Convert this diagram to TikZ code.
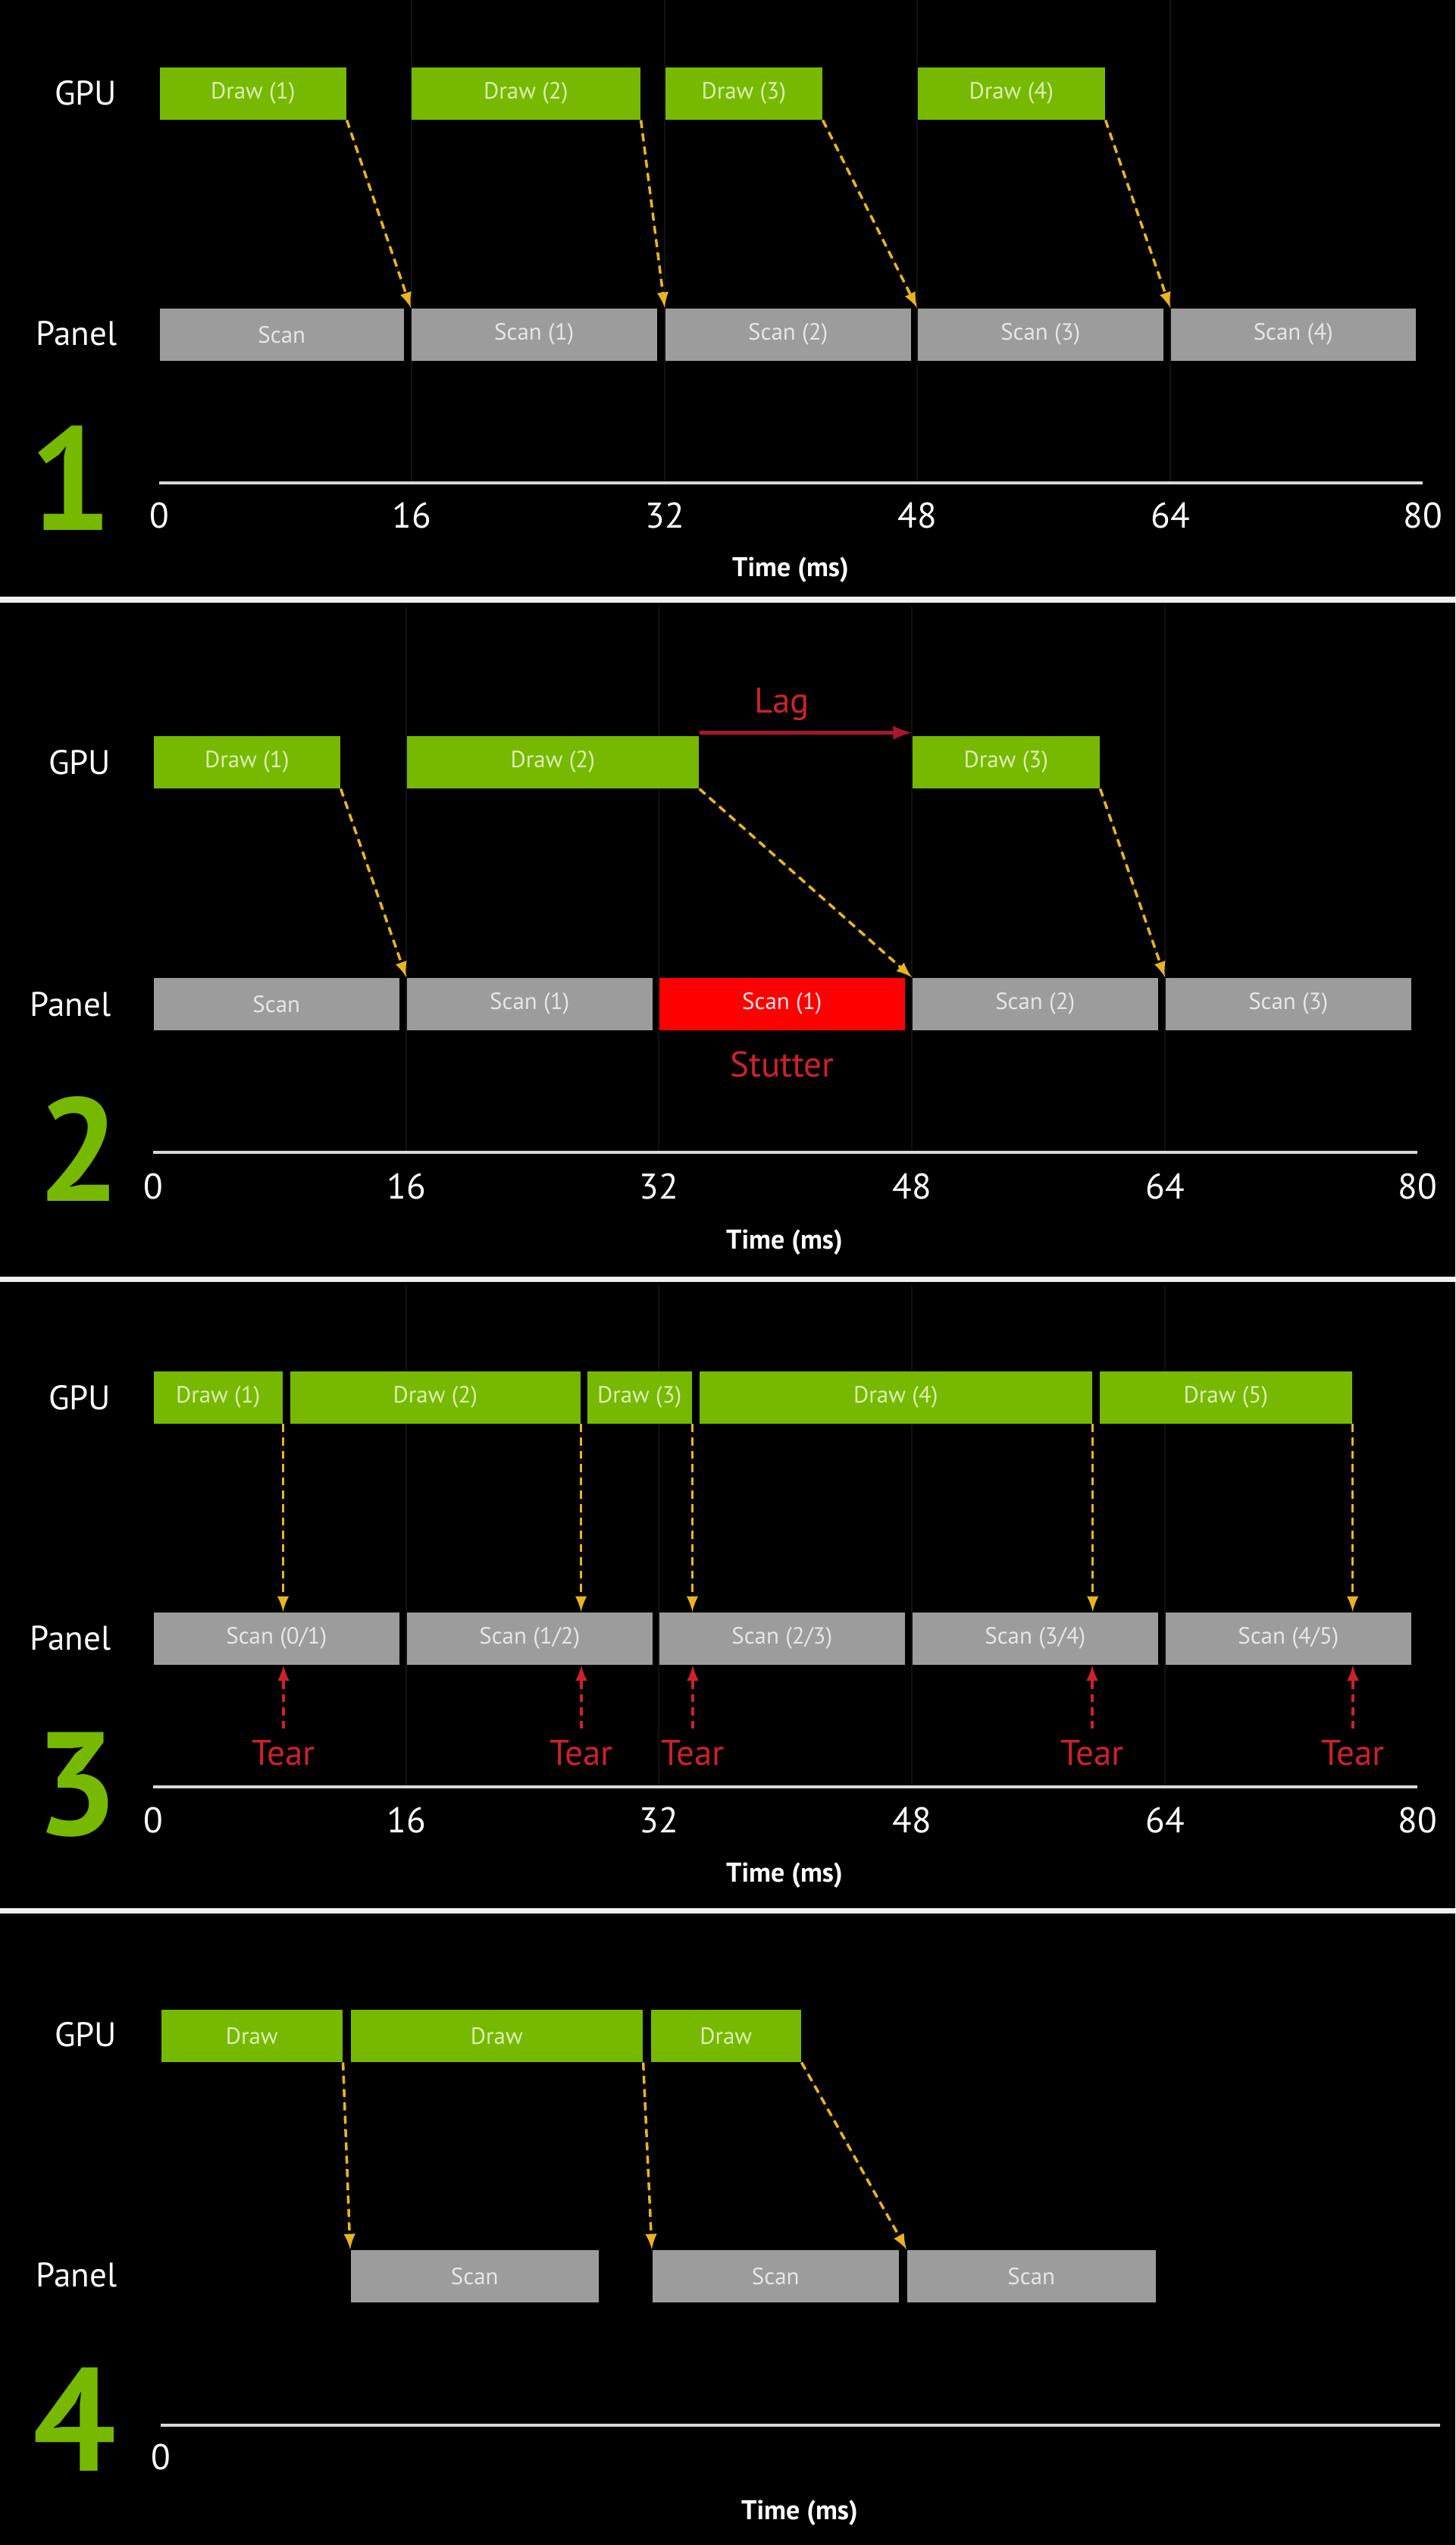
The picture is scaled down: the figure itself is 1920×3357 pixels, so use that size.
\documentclass[tikz,border=0pt]{standalone}
\usepackage{fontspec}
\setmainfont{PT Sans}
\usepackage{xcolor}
\usepackage{tikz}
\definecolor{nvgreen}{HTML}{76B900}
\definecolor{drawtext}{HTML}{DCEFB4}
\definecolor{scangray}{HTML}{9C9C9C}
\definecolor{scantext}{HTML}{E6E6E6}
\definecolor{stutterred}{HTML}{FF0000}
\definecolor{warnred}{HTML}{CC2229}
\definecolor{lagred}{HTML}{A8182A}
\definecolor{arrowyellow}{HTML}{E8B422}
\definecolor{axisgray}{HTML}{D9D9D9}
\definecolor{faintgray}{HTML}{121212}

\begin{document}
\begin{tikzpicture}[x=0.01cm,y=-0.01cm,>=latex,
        drawbox/.style={fill=nvgreen,text=drawtext,inner sep=0pt,anchor=north west,minimum height=0.69cm,font=\fontsize{8.8}{10}\selectfont},
        scanbox/.style={fill=scangray,text=scantext,inner sep=0pt,anchor=north west,minimum width=3.24cm,minimum height=0.69cm,font=\fontsize{8.8}{10}\selectfont},
        rowlbl/.style={text=white,anchor=base east,inner sep=0pt,font=\fontsize{12.8}{14}\selectfont},
        ticklbl/.style={text=white,anchor=base,inner sep=0pt,font=\fontsize{13.4}{15}\selectfont},
        timelbl/.style={text=white,anchor=base,inner sep=0pt,font=\bfseries\fontsize{10.2}{12}\selectfont},
        bignum/.style={text=nvgreen,anchor=base,inner sep=0pt,font=\bfseries\fontsize{55}{60}\selectfont},
        redlbl/.style={text=warnred,anchor=base,inner sep=0pt,font=\fontsize{13.4}{15}\selectfont},
        frame/.style={->,line width=1pt,draw=arrowyellow,fill=arrowyellow,dash pattern=on 3pt off 2pt},
        teararrow/.style={->,line width=1pt,draw=warnred,fill=warnred,dash pattern=on 3pt off 2pt},
        axisline/.style={line width=1.3pt,draw=axisgray},
        sepline/.style={line width=2pt,draw=white!94!black},
        vline/.style={line width=0.5pt,draw=faintgray}]
        \useasboundingbox (0,0) rectangle (1920,3357);
        \fill[black] (0,0) rectangle (1920,3357);

        % 1: scans in step
        \draw[vline] (543,0) -- (543,637) ;
        \draw[vline] (877,0) -- (877,637) ;
        \draw[vline] (1210,0) -- (1210,637) ;
        \draw[vline] (1544,0) -- (1544,637) ;
        \node at (155,138) [rowlbl] (gpu1) {GPU};
        \node at (155,455) [rowlbl] (pan1) {Panel};
        \node at (210,88) [drawbox,minimum width=2.46cm] (d11) {Draw (1)};
        \node at (542,88) [drawbox,minimum width=3.02cm] (d12) {Draw (2)};
        \node at (877,88) [drawbox,minimum width=2.07cm] (d13) {Draw (3)};
        \node at (1210,88) [drawbox,minimum width=2.47cm] (d14) {Draw (4)};
        \node at (210,406) [scanbox,minimum width=3.22cm] (s10) {Scan};
        \node at (542,406) [scanbox] (s11) {Scan (1)};
        \node at (877,406) [scanbox] (s12) {Scan (2)};
        \node at (1210,406) [scanbox] (s13) {Scan (3)};
        \node at (1544,406) [scanbox,minimum width=3.23cm] (s14) {Scan (4)};
        \draw[frame] (d11.south east) -- (s11.north west) ;
        \draw[frame] (d12.south east) -- (s12.north west) ;
        \draw[frame] (d13.south east) -- (s13.north west) ;
        \draw[frame] (d14.south east) -- (s14.north west) ;
        \draw[axisline] (210,637) -- (1877,637) ;
        \node at (210,696) [ticklbl] {0};
        \node at (543,696) [ticklbl] {16};
        \node at (877,696) [ticklbl] {32};
        \node at (1210,696) [ticklbl] {48};
        \node at (1544,696) [ticklbl] {64};
        \node at (1877,696) [ticklbl] {80};
        \node at (1043,760) [timelbl] (time1) {Time (ms)};
        \node at (93,699) [bignum] (num1) {1};
        \draw[sepline] (0,791) -- (1920,791) ;

        % 2: late frame, lag and stutter
        \draw[vline] (536,800) -- (536,1520) ;
        \draw[vline] (869,800) -- (869,1520) ;
        \draw[vline] (1203,800) -- (1203,1520) ;
        \draw[vline] (1537,800) -- (1537,1520) ;
        \node at (147,1021) [rowlbl] (gpu2) {GPU};
        \node at (147,1340) [rowlbl] (pan2) {Panel};
        \node at (202,970) [drawbox,minimum width=2.46cm] (d21) {Draw (1)};
        \node at (536,970) [drawbox,minimum width=3.85cm] (d22) {Draw (2)};
        \node at (1203,970) [drawbox,minimum width=2.47cm] (d23) {Draw (3)};
        \node at (202,1289) [scanbox] (s20) {Scan};
        \node at (536,1289) [scanbox] (s21) {Scan (1)};
        \node at (869,1289) [scanbox,fill=stutterred] (s22) {Scan (1)};
        \node at (1203,1289) [scanbox] (s23) {Scan (2)};
        \node at (1537,1289) [scanbox] (s24) {Scan (3)};
        \draw[frame] (d21.south east) -- (s21.north west) ;
        \draw[frame] (d22.south east) -- (s23.north west) ;
        \draw[frame] (d23.south east) -- (s24.north west) ;
        \draw[->,line width=1.4pt,draw=lagred,fill=lagred] ([yshift=1pt]d22.north east) -- ([yshift=1pt]d23.north west) ;
        \node at (1032,940) [redlbl] (lag) {Lag};
        \node at (1032,1420) [redlbl] (stutter) {Stutter};
        \draw[axisline] (202,1520) -- (1870,1520) ;
        \node at (202,1581) [ticklbl] {0};
        \node at (536,1581) [ticklbl] {16};
        \node at (869,1581) [ticklbl] {32};
        \node at (1203,1581) [ticklbl] {48};
        \node at (1537,1581) [ticklbl] {64};
        \node at (1870,1581) [ticklbl] {80};
        \node at (1035,1647) [timelbl] (time2) {Time (ms)};
        \node at (104,1584) [bignum] (num2) {2};
        \draw[sepline] (0,1687) -- (1920,1687) ;

        % 3: no sync, tearing
        \draw[vline] (536,1695) -- (536,2357) ;
        \draw[vline] (869,1695) -- (869,2357) ;
        \draw[vline] (1203,1695) -- (1203,2357) ;
        \draw[vline] (1537,1695) -- (1537,2357) ;
        \node at (147,1859) [rowlbl] (gpu3) {GPU};
        \node at (147,2176) [rowlbl] (pan3) {Panel};
        \node at (202,1808) [drawbox,minimum width=1.70cm] (d31) {Draw (1)};
        \node at (382,1808) [drawbox,minimum width=3.83cm] (d32) {Draw (2)};
        \node at (774,1808) [drawbox,minimum width=1.38cm] (d33) {Draw (3)};
        \node at (922,1808) [drawbox,minimum width=5.18cm] (d34) {Draw (4)};
        \node at (1450,1808) [drawbox,minimum width=3.33cm] (d35) {Draw (5)};
        \node at (202,2126) [scanbox] (s31) {Scan (0/1)};
        \node at (536,2126) [scanbox] (s32) {Scan (1/2)};
        \node at (869,2126) [scanbox] (s33) {Scan (2/3)};
        \node at (1203,2126) [scanbox] (s34) {Scan (3/4)};
        \node at (1537,2126) [scanbox] (s35) {Scan (4/5)};
        \draw[frame] (d31.south east) -- (d31.south east |- s31.north) ;
        \draw[frame] (d32.south east) -- (d32.south east |- s32.north) ;
        \draw[frame] (d33.south east) -- (d33.south east |- s33.north) ;
        \draw[frame] (d34.south east) -- (d34.south east |- s34.north) ;
        \draw[frame] (d35.south east) -- (d35.south east |- s35.north) ;
        \node at (374,2328) [redlbl] (t1) {Tear};
        \node at (767,2328) [redlbl] (t2) {Tear};
        \node at (914,2328) [redlbl] (t3) {Tear};
        \node at (1441,2328) [redlbl] (t4) {Tear};
        \node at (1785,2328) [redlbl] (t5) {Tear};
        \draw[teararrow] ([yshift=4pt]t1.north) -- (t1.north |- s31.south) ;
        \draw[teararrow] ([yshift=4pt]t2.north) -- (t2.north |- s32.south) ;
        \draw[teararrow] ([yshift=4pt]t3.north) -- (t3.north |- s33.south) ;
        \draw[teararrow] ([yshift=4pt]t4.north) -- (t4.north |- s34.south) ;
        \draw[teararrow] ([yshift=4pt]t5.north) -- (t5.north |- s35.south) ;
        \draw[axisline] (202,2357) -- (1870,2357) ;
        \node at (202,2417) [ticklbl] {0};
        \node at (536,2417) [ticklbl] {16};
        \node at (869,2417) [ticklbl] {32};
        \node at (1203,2417) [ticklbl] {48};
        \node at (1537,2417) [ticklbl] {64};
        \node at (1870,2417) [ticklbl] {80};
        \node at (1035,2482) [timelbl] (time3) {Time (ms)};
        \node at (101,2420) [bignum] (num3) {3};
        \draw[sepline] (0,2520) -- (1920,2520) ;

        % 4: scan follows the draw
        \node at (155,2699) [rowlbl] (gpu4) {GPU};
        \node at (155,3016) [rowlbl] (pan4) {Panel};
        \node at (212,2650) [drawbox,minimum width=2.39cm] (d41) {Draw};
        \node at (462,2650) [drawbox,minimum width=3.85cm] (d42) {Draw};
        \node at (858,2650) [drawbox,minimum width=1.98cm] (d43) {Draw};
        \node at (462,2967) [scanbox,minimum width=3.27cm] (s41) {Scan};
        \node at (860,2967) [scanbox,minimum width=3.25cm] (s42) {Scan};
        \node at (1196,2967) [scanbox,minimum width=3.28cm] (s43) {Scan};
        \draw[frame] (d41.south east) -- (s41.north west) ;
        \draw[frame] (d42.south east) -- (s42.north west) ;
        \draw[frame] (d43.south east) -- (s43.north west) ;
        \draw[axisline] (212,3199) -- (1900,3199) ;
        \node at (212,3257) [ticklbl] {0};
        \node at (1055,3323) [timelbl] (time4) {Time (ms)};
        \node at (98,3259) [bignum] (num4) {4};
\end{tikzpicture}
\end{document}
